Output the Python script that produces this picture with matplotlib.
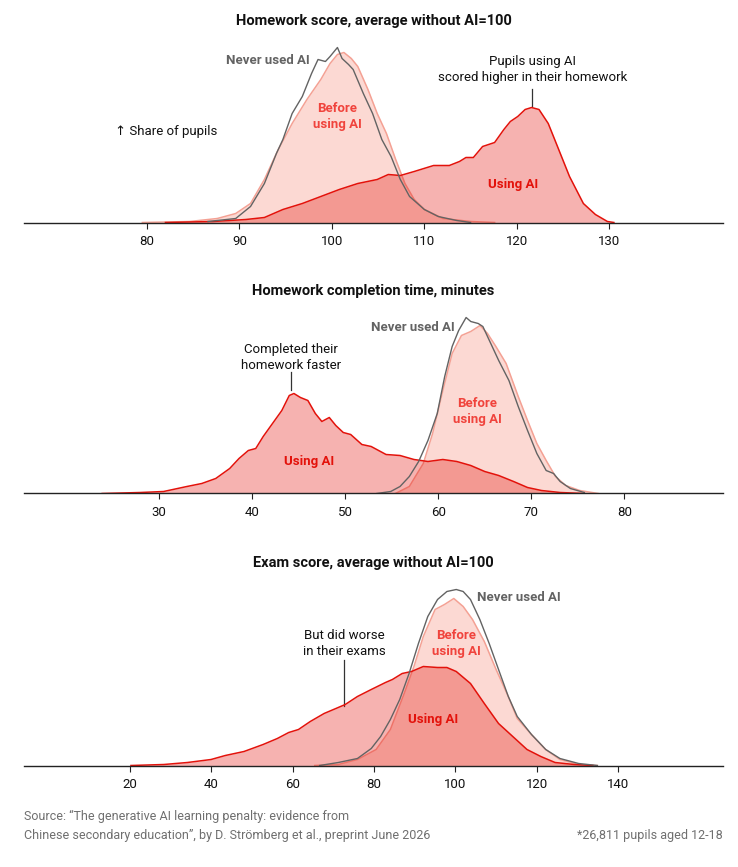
import numpy as np
import matplotlib
matplotlib.use("Agg")
import matplotlib.pyplot as plt

plt.rcParams['font.family'] = ['Roboto', 'DejaVu Sans']

# -------- DATA (share of pupils) --------
# Panel 1: homework score
hw_never_x = [86.6, 89.6, 91.2, 92.7, 94.0, 94.7, 95.7, 96.8, 97.8, 98.5, 99.3, 99.8, 100.6, 101.1,
              101.8, 102.3, 103.4, 104.4, 105.4, 106.4, 107.4, 108.4, 110.0, 111.5, 113.5, 115.0]
hw_never_y = [1, 4, 16, 39, 69, 83, 109, 126, 149, 163, 161, 166, 175, 164,
              158, 153, 129, 109, 83, 66, 43, 26, 13, 6, 2, 0]
hw_before_x = [79.5, 84.6, 87.6, 89.6, 91.2, 92.7, 94.2, 95.7, 97.3, 98.8, 99.8, 100.6, 101.3, 102.1,
               102.8, 103.9, 104.9, 105.9, 106.9, 107.9, 108.9, 110.0, 112.0, 115.0, 117.6]
hw_before_y = [0, 1, 4, 9, 19, 43, 73, 99, 123, 143, 159, 168, 170, 164,
               156, 133, 109, 89, 63, 39, 23, 13, 4, 1, 0]
hw_using_x = [82.0, 87.1, 90.7, 92.7, 94.7, 96.8, 98.8, 100.8, 102.8, 104.9, 106.1, 107.4, 108.9,
              111.0, 112.7, 113.8, 114.5, 115.3, 116.3, 117.6, 118.6, 119.3, 120.1, 120.9, 121.6,
              122.4, 123.4, 124.4, 125.7, 127.2, 128.5, 129.8, 130.5]
hw_using_y = [0, 1, 3, 5, 13, 19, 26, 33, 39, 43, 48, 47, 51,
              57, 57, 61, 65, 65, 76, 80, 93, 101, 106, 113, 115,
              113, 99, 76, 46, 19, 8, 1, 0]

# Panel 2: completion time, minutes
tm_never_x = [53.4, 54.9, 55.9, 56.9, 57.9, 58.9, 59.9, 60.7, 61.5, 62.2, 63.0, 63.5, 64.3, 64.8,
              65.5, 66.5, 67.6, 68.6, 69.6, 70.6, 71.6, 72.4, 73.1, 74.2, 75.7]
tm_never_y = [0, 2, 7, 17, 32, 53, 80, 117, 147, 163, 176, 172, 170, 167,
              153, 133, 113, 87, 63, 40, 23, 20, 12, 5, 1]
tm_before_x = [55.4, 56.9, 58.4, 59.4, 60.5, 61.5, 62.5, 63.5, 64.5, 65.3, 66.2, 67.3, 68.6, 69.6,
               70.6, 71.6, 72.6, 73.7, 75.2, 77.2]
tm_before_y = [0, 7, 30, 60, 103, 140, 158, 162, 168, 160, 147, 130, 97, 73,
               50, 33, 17, 8, 3, 0]
tm_using_x = [23.9, 28.0, 30.5, 32.0, 33.0, 34.6, 36.1, 37.6, 38.6, 39.6, 40.4, 41.2, 42.2, 43.2,
              44.0, 44.5, 45.2, 46.0, 46.8, 47.5, 48.3, 49.0, 49.8, 50.6, 51.8, 52.8, 54.4, 55.9,
              57.4, 58.9, 60.5, 62.0, 63.5, 65.0, 66.5, 68.1, 69.6, 71.1, 73.1, 75.7]
tm_using_y = [0, 1, 2, 5, 7, 10, 15, 25, 35, 43, 45, 57, 70, 83,
              98, 100, 96, 93, 80, 72, 76, 68, 61, 59, 49, 47, 39, 38,
              34, 32, 34, 32, 28, 22, 18, 12, 6, 3, 1, 0]

# Panel 3: exam score
ex_never_x = [66.6, 71.2, 75.9, 79.3, 81.6, 84.0, 86.3, 88.6, 90.9, 93.2, 95.6, 97.9, 100.2, 101.9,
              103.7, 106.0, 108.3, 110.6, 113.0, 115.2, 118.7, 122.2, 125.7, 130.3, 134.9]
ex_never_y = [0, 3, 7, 17, 29, 46, 66, 92, 122, 149, 166, 174, 176, 174,
              166, 146, 122, 96, 69, 49, 31, 16, 7, 2, 0]
ex_before_x = [65.4, 71.2, 75.9, 80.5, 84.0, 87.4, 89.8, 92.1, 95.0, 97.3, 99.6, 101.9, 104.2,
               107.1, 110.0, 113.0, 115.2, 118.7, 122.2, 125.7, 130.3, 134.9]
ex_before_y = [0, 1, 6, 16, 36, 72, 99, 129, 156, 161, 167, 159, 146,
               124, 96, 69, 47, 31, 16, 6, 1, 0]
ex_using_x = [20.2, 28.3, 34.1, 39.9, 43.4, 48.0, 52.7, 56.2, 59.0, 61.4, 64.3, 67.7, 70.6, 72.9,
              75.9, 79.3, 82.8, 84.5, 86.9, 89.2, 92.1, 95.6, 97.9, 100.2, 103.7, 107.1, 110.6,
              114.1, 117.6, 121.0, 124.5, 129.2, 133.8]
ex_using_y = [0, 1, 3, 6, 10, 14, 21, 27, 33, 36, 44, 52, 57, 61,
              69, 76, 83, 86, 92, 94, 99, 98, 98, 94, 82, 62, 42,
              29, 16, 9, 3, 1, 0]

titles = ["Homework score, average without AI=100",
          "Homework completion time, minutes",
          "Exam score, average without AI=100"]
xlims = [(66.7, 142.3), (15.5, 90.6), (-6.1, 165.8)]
ticks = [[80, 90, 100, 110, 120, 130],
         [30, 40, 50, 60, 70, 80],
         [20, 40, 60, 80, 100, 120, 140]]

RED = "#e3120b"
BEFORE_FILL = "#fcd9d3"
BEFORE_EDGE = "#f4a194"
BEFORE_TEXT = "#f0433c"
GREY = "#636363"

W, H = 738, 867
fig = plt.figure(figsize=(W / 100, H / 100), dpi=100)

baselines = [222.5, 493.5, 765.5]
panels = [
    (hw_never_x, hw_never_y, hw_before_x, hw_before_y, hw_using_x, hw_using_y),
    (tm_never_x, tm_never_y, tm_before_x, tm_before_y, tm_using_x, tm_using_y),
    (ex_never_x, ex_never_y, ex_before_x, ex_before_y, ex_using_x, ex_using_y),
]

axes = []
for i, (nx, ny, bx, by, ux, uy) in enumerate(panels):
    base = baselines[i]
    ax = fig.add_axes([24 / W, 1 - base / H, (723 - 24) / W, 200 / H])
    axes.append(ax)

    # before: opaque light pink
    ax.fill_between(bx, by, 0, color=BEFORE_FILL, lw=0, zorder=1)
    ax.plot(bx, by, color=BEFORE_EDGE, lw=1.1, zorder=2)
    # using AI: translucent red on top
    ax.fill_between(ux, uy, 0, color=RED, alpha=0.32, lw=0, zorder=3)
    ax.plot(ux, uy, color=RED, lw=1.1, zorder=4)
    # never used AI: grey outline
    ax.plot(nx, ny, color=GREY, lw=1.0, zorder=5)

    ax.set_xlim(*xlims[i])
    ax.set_ylim(0, 200)
    for s in ["top", "right", "left"]:
        ax.spines[s].set_visible(False)
    ax.spines["bottom"].set_color("#222222")
    ax.spines["bottom"].set_linewidth(1.0)
    ax.spines["bottom"].set_zorder(6)
    ax.set_yticks([])
    ax.set_xticks(ticks[i])
    ax.tick_params(axis="x", length=4, width=0.8, color="#222222", labelsize=9.5,
                   pad=5, labelcolor="#111111")

    ax.text(0.5, 1.01, titles[i], transform=ax.transAxes, ha="center", va="center",
            fontsize=10.5, fontweight="bold", color="#111111")

lab = dict(fontsize=9.5, fontweight="bold", ha="center", va="center", linespacing=1.25)
note = dict(fontsize=9.5, color="#111111", ha="center", va="center", linespacing=1.25)

# panel 1 labels
ax = axes[0]
ax.text(97.6, 162, "Never used AI", color=GREY, fontsize=9.5, fontweight="bold", ha="right", va="center")
ax.text(100.6, 106, "Before\nusing AI", color=BEFORE_TEXT, **lab)
ax.text(119.6, 38, "Using AI", color=RED, **lab)
ax.text(121.7, 153, "Pupils using AI\nscored higher in their homework", **note)
ax.plot([121.6, 121.6], [117, 134], color="#333333", lw=0.9)
ax.text(76.5, 91, "\u2191 Share of pupils", fontsize=9.5, color="#111111", ha="left", va="center")

# panel 2 labels
ax = axes[1]
ax.text(61.8, 166, "Never used AI", color=GREY, fontsize=9.5, fontweight="bold", ha="right", va="center")
ax.text(64.2, 82, "Before\nusing AI", color=BEFORE_TEXT, **lab)
ax.text(46.1, 32, "Using AI", color=RED, **lab)
ax.text(44.2, 136, "Completed their\nhomework faster", **note)
ax.plot([44.2, 44.2], [103, 121], color="#333333", lw=0.9)

# panel 3 labels
ax = axes[2]
ax.text(105.3, 168, "Never used AI", color=GREY, fontsize=9.5, fontweight="bold", ha="left", va="center")
ax.text(100.2, 122, "Before\nusing AI", color=BEFORE_TEXT, **lab)
ax.text(94.5, 46, "Using AI", color=RED, **lab)
ax.text(72.6, 122, "But did worse\nin their exams", **note)
ax.plot([72.6, 72.6], [60, 106], color="#333333", lw=0.9)

# -------- FOOTER --------
fig.text(24 / W, 1 - 816 / H, "Source: \u201cThe generative AI learning penalty: evidence from",
         fontsize=9, color="#6f6f6f", ha="left", va="center")
fig.text(24 / W, 1 - 835 / H, "Chinese secondary education\u201d, by D. Str\u00f6mberg et al., preprint June 2026",
         fontsize=9, color="#6f6f6f", ha="left", va="center")
fig.text(723 / W, 1 - 835 / H, "*26,811 pupils aged 12-18",
         fontsize=9, color="#6f6f6f", ha="right", va="center")

fig.savefig("out.png", dpi=100, facecolor="white")
